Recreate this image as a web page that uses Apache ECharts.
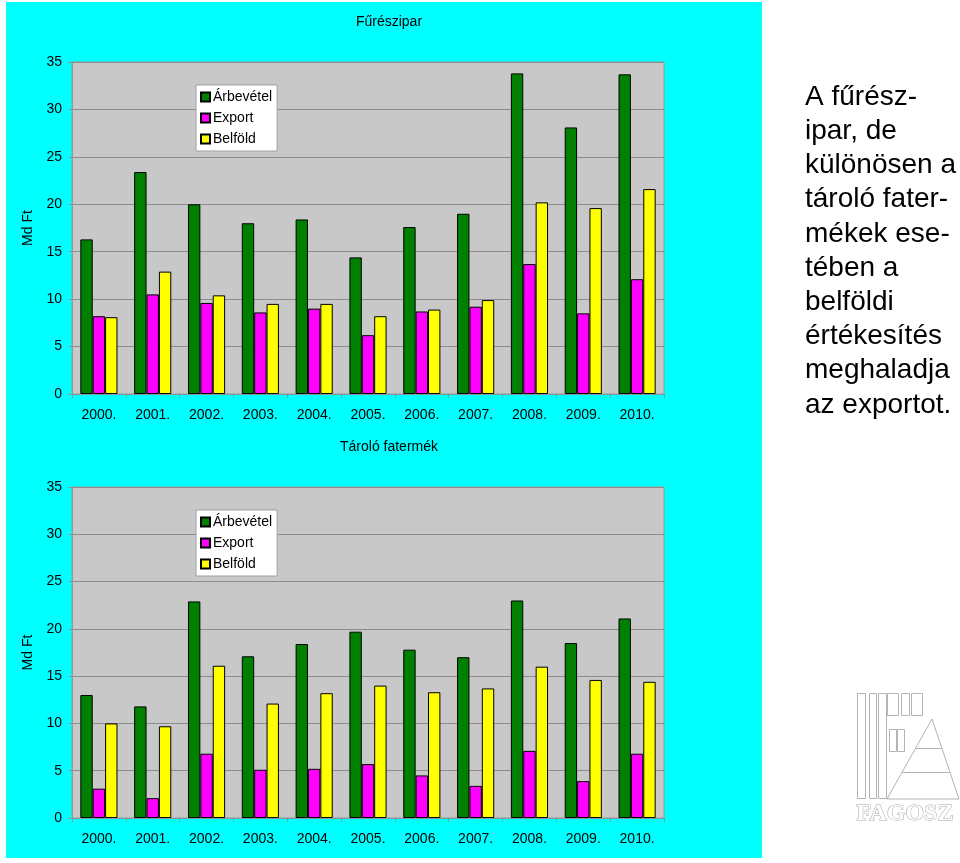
<!DOCTYPE html>
<html>
<head>
<meta charset="utf-8">
<script src="https://cdn.jsdelivr.net/npm/echarts@6/dist/echarts.min.js"></script>
<style>
html,body{margin:0;padding:0;background:#fff;}
#c{width:960px;height:863px;}
</style>
</head>
<body>
<div id="c"></div>
<script>
// ---- data ----
var years = ['2000.', '2001.', '2002.', '2003.', '2004.', '2005.', '2006.', '2007.', '2008.', '2009.', '2010.'];
var seriesNames = ['Árbevétel', 'Export', 'Belföld'];
var yTicks = [0, 5, 10, 15, 20, 25, 30, 35];

var fureszArbevetel = [16.3, 23.4, 20.0, 18.0, 18.4, 14.4, 17.6, 19.0, 33.8, 28.1, 33.7];
var fureszExport    = [8.2, 10.5, 9.6, 8.6, 9.0, 6.2, 8.7, 9.2, 13.7, 8.5, 12.1];
var fureszBelfold   = [8.1, 12.9, 10.4, 9.5, 9.5, 8.2, 8.9, 9.9, 20.2, 19.6, 21.6];

var taroloArbevetel = [13.0, 11.8, 22.9, 17.1, 18.4, 19.7, 17.8, 17.0, 23.0, 18.5, 21.1];
var taroloExport    = [3.1, 2.1, 6.8, 5.1, 5.2, 5.7, 4.5, 3.4, 7.1, 3.9, 6.8];
var taroloBelfold   = [10.0, 9.7, 16.1, 12.1, 13.2, 14.0, 13.3, 13.7, 16.0, 14.6, 14.4];

var titleTop = 'Fűrészipar';
var titleBottom = 'Tároló fatermék';
var yName = 'Md Ft';
var sideText = ['A fűrész-', 'ipar, de', 'különösen a', 'tároló fater-', 'mékek ese-', 'tében a', 'belföldi', 'értékesítés', 'meghaladja', 'az exportot.'];

// ---- styles ----
var colors = ['#008000', '#ff00ff', '#ffff00'];
var FONT = 'Liberation Sans, Arial, sans-serif';

var chart = echarts.init(document.getElementById('c'), null, {renderer: 'canvas'});

function makeX(gi) {
  return {
    type: 'category', gridIndex: gi, data: years,
    axisLine: {show: true, lineStyle: {color: '#7f9a9a', width: 1}},
    axisTick: {show: true, length: 4, lineStyle: {color: '#7f9a9a'}},
    axisLabel: {color: '#000', fontSize: 14, fontFamily: FONT, margin: 14}
  };
}
function makeY(gi) {
  return {
    type: 'value', gridIndex: gi, min: yTicks[0], max: yTicks[yTicks.length - 1], interval: 5,
    name: yName, nameLocation: 'middle', nameGap: 34, nameRotate: 90,
    nameTextStyle: {color: '#000', fontSize: 14, fontFamily: FONT},
    axisLine: {show: true, lineStyle: {color: '#8a9a9a', width: 1}},
    axisTick: {show: true, length: 4, lineStyle: {color: '#8a9a9a'}},
    axisLabel: {color: '#000', fontSize: 14, fontFamily: FONT, margin: 10},
    splitLine: {show: true, lineStyle: {color: '#8c8c8c', width: 1}}
  };
}
function makeSeries(gi, data, idx) {
  return {
    type: 'bar', name: seriesNames[idx], xAxisIndex: gi, yAxisIndex: gi, data: data,
    barGap: '0%', barCategoryGap: '31%',
    itemStyle: {color: colors[idx], borderColor: '#000', borderWidth: 1},
    emphasis: {disabled: true}
  };
}
function makeLegend(top) {
  return {
    orient: 'vertical', left: 196, top: top, data: seriesNames,
    backgroundColor: '#fff', borderColor: '#a0a0a0', borderWidth: 1,
    padding: [5, 5, 5, 4], itemWidth: 9, itemHeight: 9, itemGap: 7,
    icon: 'rect', selectedMode: false,
    textStyle: {color: '#000', fontSize: 14, fontFamily: FONT, padding: [0, 0, 0, -2]}
  };
}

// logo outlines (decorative)
var logoStroke = {stroke: '#b4b4b4', fill: null, lineWidth: 1};
var logoRects = [
  [857, 693, 8, 105], [869, 693, 7, 105], [878, 693, 8, 105],
  [887, 693, 11, 22], [901, 693, 8, 22], [911, 693, 11, 22],
  [889, 729, 7, 22], [897, 729, 7, 22]
];
var logoGraphics = logoRects.map(function (r) {
  return {type: 'rect', shape: {x: r[0] + 0.5, y: r[1] + 0.5, width: r[2], height: r[3]}, style: logoStroke, silent: true};
});
logoGraphics.push({type: 'polygon', shape: {points: [[932, 719], [887, 799], [959, 799]]}, style: logoStroke, silent: true});
logoGraphics.push({type: 'line', shape: {x1: 915, y1: 748.5, x2: 942, y2: 748.5}, style: {stroke: '#b4b4b4', lineWidth: 1}, silent: true});
logoGraphics.push({type: 'line', shape: {x1: 902, y1: 772.5, x2: 950, y2: 772.5}, style: {stroke: '#b4b4b4', lineWidth: 1}, silent: true});
logoGraphics.push({type: 'text', left: 856, top: 801, silent: true,
  style: {text: 'FAGOSZ', fill: '#fff', stroke: '#a8a8a8', lineWidth: 1, font: 'bold 24px "Liberation Serif", serif'}});

var option = {
  backgroundColor: '#fff',
  animation: false,
  graphic: [
    {type: 'rect', z: -10, silent: true, shape: {x: 6, y: 2, width: 756, height: 856}, style: {fill: '#00ffff'}},
    {type: 'text', left: 805, top: 80, silent: true,
     style: {text: sideText.join('\n'), fill: '#000', font: '28px ' + FONT, lineHeight: 34.2}}
  ].concat(logoGraphics),
  title: [
    {text: titleTop, left: 384, top: 10, textAlign: 'center',
     textStyle: {color: '#000', fontSize: 14, fontWeight: 'normal', fontFamily: FONT}},
    {text: titleBottom, left: 384, top: 435, textAlign: 'center',
     textStyle: {color: '#000', fontSize: 14, fontWeight: 'normal', fontFamily: FONT}}
  ],
  legend: [makeLegend(85), makeLegend(510)],
  grid: [
    {left: 72, top: 62, width: 592, height: 332, show: true, backgroundColor: '#c8c8c8', borderColor: '#9a9a9a', borderWidth: 1},
    {left: 72, top: 487, width: 592, height: 331, show: true, backgroundColor: '#c8c8c8', borderColor: '#9a9a9a', borderWidth: 1}
  ],
  xAxis: [makeX(0), makeX(1)],
  yAxis: [makeY(0), makeY(1)],
  series: [
    makeSeries(0, fureszArbevetel, 0),
    makeSeries(0, fureszExport, 1),
    makeSeries(0, fureszBelfold, 2),
    makeSeries(1, taroloArbevetel, 0),
    makeSeries(1, taroloExport, 1),
    makeSeries(1, taroloBelfold, 2)
  ]
};
chart.setOption(option);
</script>
</body>
</html>
